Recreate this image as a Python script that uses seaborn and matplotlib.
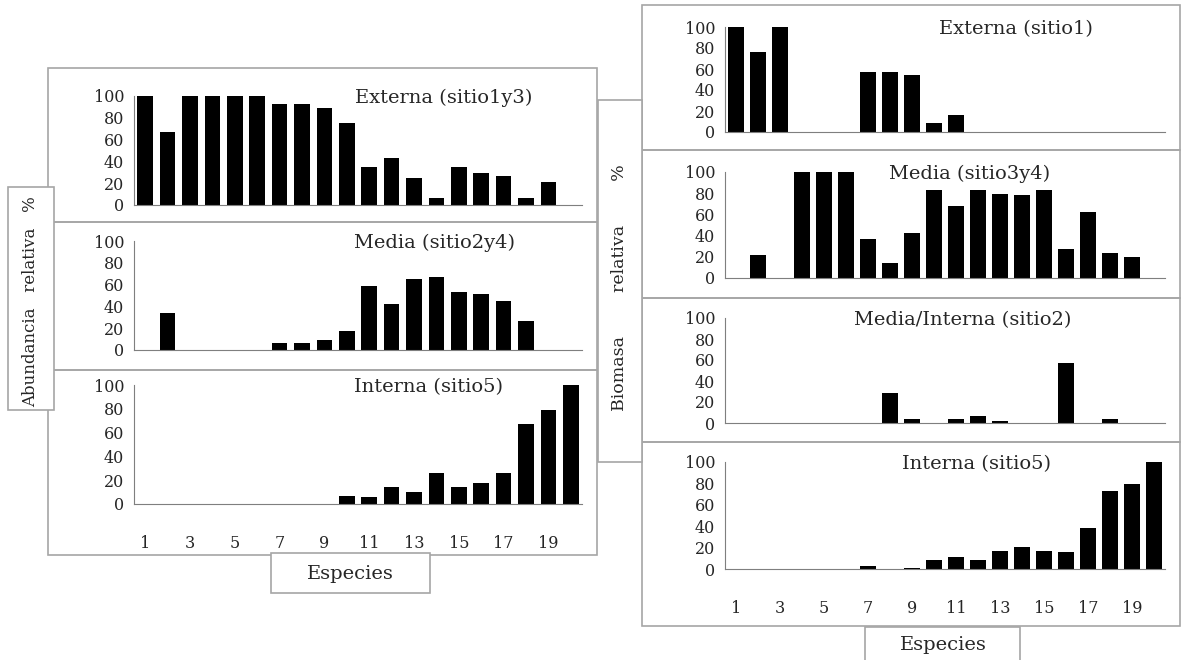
import matplotlib
matplotlib.use("Agg")
import matplotlib.pyplot as plt
import numpy as np
import pandas as pd
import seaborn as sns
from matplotlib.patches import Rectangle

species = list(range(1, 21))

# Abundancia relativa (%)
abund_externa = [100, 67, 100, 100, 100, 100, 93, 93, 89, 75, 35, 43, 25, 6, 35, 29, 27, 6, 21, 0]
abund_media = [0, 34, 0, 0, 0, 0, 6, 6, 9, 17, 59, 42, 65, 67, 53, 51, 45, 27, 0, 0]
abund_interna = [0, 0, 0, 0, 0, 0, 0, 0, 0, 7, 6, 14, 10, 26, 14, 18, 26, 67, 79, 100]

# Biomasa relativa (%)
bio_externa = [100, 76, 100, 0, 0, 0, 57, 57, 54, 9, 16, 0, 0, 0, 0, 0, 0, 0, 0, 0]
bio_media = [0, 22, 0, 100, 100, 100, 37, 14, 42, 83, 68, 83, 79, 78, 83, 27, 62, 24, 20, 0]
bio_media_interna = [0, 0, 0, 0, 0, 0, 0, 29, 4, 0, 4, 7, 2, 0, 0, 57, 0, 4, 0, 0]
bio_interna = [0, 0, 0, 0, 0, 0, 3, 0, 0.5, 8, 11, 8, 17, 21, 17, 16, 38, 73, 79, 100]

W, H = 1181, 660
FRAME = "#a6a6a6"
AXIS = "#7f7f7f"

sns.set_theme(style="white")
plt.rcParams["font.family"] = ["DejaVu Serif", "Liberation Serif"]


def px(x, y):
    return x / W, 1 - y / H


def add_panel(fig, values, title, x0, x1, y100, y0, title_x, last=False):
    left, bottom = px(x0, y0)
    width = (x1 - x0) / W
    height = (y0 - y100) / H
    ax = fig.add_axes([left, bottom, width, height])
    df = pd.DataFrame({"especie": species, "valor": values})
    sns.barplot(data=df, x="especie", y="valor", color="black", width=0.7,
                saturation=1, ax=ax, edgecolor="none")
    ax.set_xlim(-0.5, 19.5)
    ax.set_ylim(0, 100)
    ax.set_yticks(np.arange(0, 101, 20))
    ax.set_xticks(np.arange(-0.5, 20, 1))
    ax.set_xticklabels([])
    ax.tick_params(axis="x", which="major", length=4, width=0.8, color=AXIS, direction="out")
    ax.tick_params(axis="y", length=4, width=0.8, color=AXIS, direction="out",
                   labelsize=11.5, pad=3)
    if last:
        ax.set_xticks(np.arange(0, 20, 2), minor=True)
        ax.set_xticklabels([str(s) for s in species[::2]], minor=True)
        ax.tick_params(axis="x", which="minor", length=0, labelsize=11.5, pad=22)
    ax.set_xlabel("")
    ax.set_ylabel("")
    for side in ["top", "right"]:
        ax.spines[side].set_visible(False)
    for side in ["left", "bottom"]:
        ax.spines[side].set_color(AXIS)
        ax.spines[side].set_linewidth(0.8)
    ax.patch.set_alpha(0)
    tx, ty = px(title_x, y100 + 2)
    fig.text(tx, ty, title, ha="center", va="center", fontsize=14)
    return ax


def add_box(fig, x0, y0, x1, y1, fill=False, z=0):
    left, bottom = px(x0, y1)
    rect = Rectangle((left, bottom), (x1 - x0) / W, (y1 - y0) / H,
                     transform=fig.transFigure, facecolor="white" if fill else "none",
                     edgecolor=FRAME, linewidth=1.2, zorder=z)
    fig.add_artist(rect)


fig = plt.figure(figsize=(W / 100, H / 100), dpi=100)

# left group frames
for y0, y1 in [(68, 222), (222, 370), (370, 555)]:
    add_box(fig, 48, y0, 597, y1)
# right group frames
for y0, y1 in [(5, 150), (150, 298), (298, 442), (442, 626)]:
    add_box(fig, 642, y0, 1180, y1)

add_panel(fig, abund_externa, "Externa (sitio1y3)", 134, 582, 96, 205, 444)
add_panel(fig, abund_media, "Media (sitio2y4)", 134, 582, 241, 350, 434)
add_panel(fig, abund_interna, "Interna (sitio5)", 134, 582, 385, 504, 428, last=True)

add_panel(fig, bio_externa, "Externa (sitio1)", 725, 1165, 27, 132, 1016)
add_panel(fig, bio_media, "Media (sitio3y4)", 725, 1165, 172, 278, 970)
add_panel(fig, bio_media_interna, "Media/Interna (sitio2)", 725, 1165, 318, 423, 963)
add_panel(fig, bio_interna, "Interna (sitio5)", 725, 1165, 462, 569, 976, last=True)

# label boxes
add_box(fig, 8, 187, 54, 410, fill=True, z=5)
fig.text(*px(31, 302), "Abundancia   relativa   %", rotation=90, ha="center", va="center",
         fontsize=12, zorder=6)
add_box(fig, 271, 553, 430, 593, fill=True, z=5)
fig.text(*px(350, 574), "Especies", ha="center", va="center", fontsize=14, zorder=6)

add_box(fig, 598, 100, 642, 462, fill=True, z=5)
fig.text(*px(620, 288), "Biomasa        relativa        %", rotation=90, ha="center",
         va="center", fontsize=12.5, zorder=6)
add_box(fig, 865, 627, 1020, 662, fill=True, z=5)
fig.text(*px(943, 645), "Especies", ha="center", va="center", fontsize=14, zorder=6)

fig.savefig("out.png", dpi=100)
